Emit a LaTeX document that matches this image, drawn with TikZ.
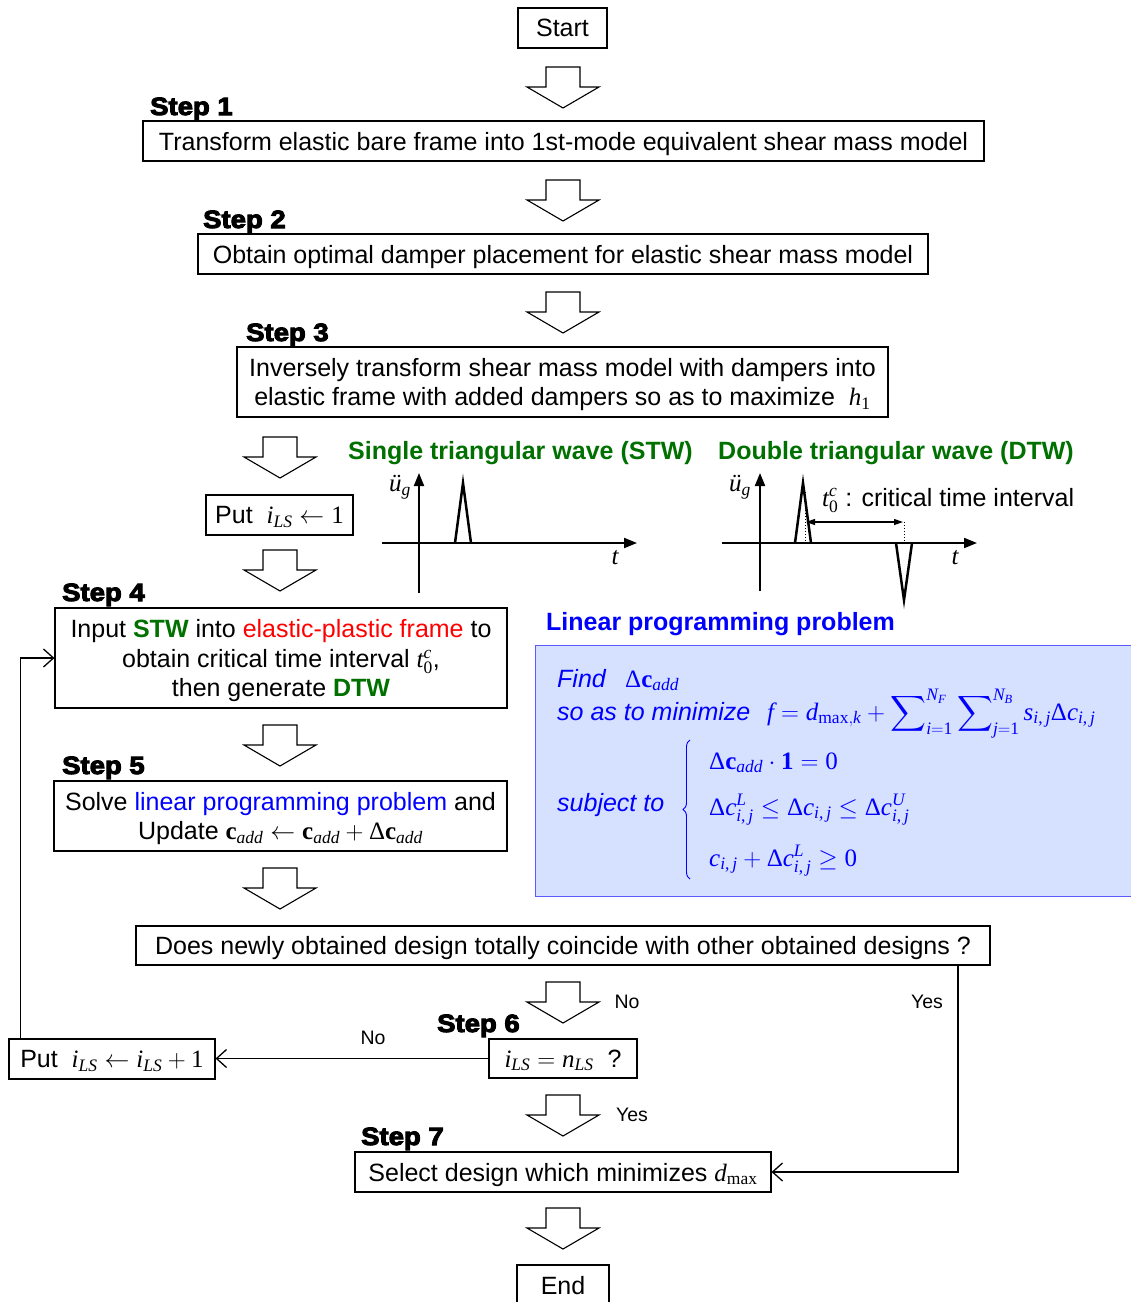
\documentclass[tikz,border=0pt]{standalone}
\usepackage{amsmath}
\usepackage{fontspec}
\setmainfont{Liberation Sans}
\newfontfamily\tms{Liberation Serif}
\newfontfamily\heavy{Liberation Sans Bold}[FakeBold=4,FakeStretch=1.1]
\usetikzlibrary{arrows.meta,decorations.pathreplacing}

% math pieces set in a Times-like face
\newcommand\mv[1]{\text{\tms\itshape #1}}
\newcommand\mr[1]{\text{\tms\upshape #1}}
\newcommand\mbf[1]{\text{\tms\bfseries\upshape #1}}
\newcommand\subij{\mv{i}\mr{,}\,\mv{j}}
\newcommand\mainsize{\fontsize{25}{29.5}\selectfont}

\definecolor{dkgreen}{RGB}{0,112,0}
\definecolor{lpfill}{RGB}{214,224,255}
\definecolor{lpedge}{RGB}{90,90,255}

% hollow block arrow: centre x, top y
\newcommand\blockarrow[2]{%
  \draw[blk] (#1-17,#2) -- (#1+17,#2) -- (#1+17,#2+20) -- (#1+36,#2+20)
    -- (#1,#2+41) -- (#1-36,#2+20) -- (#1-17,#2+20) -- cycle;}

\begin{document}
\begin{tikzpicture}[x=1pt,y=-1pt,
  box/.style={draw, line width=1.1pt, inner sep=0pt, align=center, text depth=0pt, font=\mainsize},
  blk/.style={draw, line width=1.1pt, fill=white, line join=miter},
  steplbl/.style={anchor=base west, inner sep=0pt, font=\heavy\fontsize{25}{30}\selectfont},
  conn/.style={line width=1.3pt, -{Straight Barb[length=10pt,width=18pt]}},
  yn/.style={inner sep=0pt, font=\fontsize{19.5}{22}\selectfont},
  axis/.style={line width=2pt, -{Triangle[length=13pt,width=10pt]}},
  wavestroke/.style={line width=2.5pt, line join=miter},
  plain/.style={inner sep=0pt, font=\mainsize},
  lptext/.style={anchor=base west, inner sep=0pt, text=blue, font=\mainsize}]
\useasboundingbox (0,0) rectangle (1131,1302);

% main chain of boxes
\node[box, minimum width=89pt, minimum height=40pt] (start) at (562.5,28) {Start};
\node[box, minimum width=841pt, minimum height=40pt] (s1) at (563.5,141)
  {Transform elastic bare frame into 1st-mode equivalent shear mass model};
\node[box, minimum width=730pt, minimum height=40pt] (s2) at (563,254)
  {Obtain optimal damper placement for elastic shear mass model};
\node[box, minimum width=651pt, minimum height=70pt] (s3) at (562.5,382)
  {Inversely transform shear mass model with dampers into\\
   elastic frame with added dampers so as to maximize~~$\mv{h}_{\mr{1}}$};
\node[box, minimum width=147pt, minimum height=40pt] (put1) at (279.5,515)
  {Put~~$\mv{i}_{\mv{LS}} \leftarrow \mr{1}$};
\node[box, minimum width=452pt, minimum height=100pt] (s4) at (281,658)
  {Input {\color{dkgreen}\bfseries STW} into {\color{red}elastic-plastic frame} to\\
   obtain critical time interval $\mv{t}_{\mr{0}}^{\mv{c}}$,\\
   then generate {\color{dkgreen}\bfseries DTW}};
\node[box, minimum width=453pt, minimum height=70pt] (s5) at (280.5,816)
  {Solve {\color{blue}linear programming problem} and\\
   Update~$\mbf{c}_{\mv{add}} \leftarrow \mbf{c}_{\mv{add}} + \mr{Δ}\mbf{c}_{\mv{add}}$};
\node[box, minimum width=854pt, minimum height=39pt] (dec) at (563,945.5)
  {Does newly obtained design totally coincide with other obtained designs ?};
\node[box, minimum width=148pt, minimum height=39pt] (s6) at (563,1058.5)
  {$\mv{i}_{\mv{LS}} = \mv{n}_{\mv{LS}}$~~?};
\node[box, minimum width=206pt, minimum height=40pt] (put2) at (112,1059)
  {Put~~$\mv{i}_{\mv{LS}} \leftarrow \mv{i}_{\mv{LS}} + \mr{1}$};
\node[box, minimum width=416pt, minimum height=40pt] (s7) at (563,1172)
  {Select design which minimizes~$\mv{d}_{\mr{max}}$};
\node[box, minimum width=92pt, minimum height=40pt] (end) at (563,1285) {End};

% step labels
\node[steplbl] (l1) at (150,115) {Step 1};
\node[steplbl] (l2) at (203,228) {Step 2};
\node[steplbl] (l3) at (246,341) {Step 3};
\node[steplbl] (l4) at (62,601) {Step 4};
\node[steplbl] (l5) at (62,774) {Step 5};
\node[steplbl] (l6) at (437,1032) {Step 6};
\node[steplbl] (l7) at (361,1145) {Step 7};

% hollow block arrows between stages
\blockarrow{563}{67}
\blockarrow{563}{180}
\blockarrow{563}{292}
\blockarrow{280}{437}
\blockarrow{280}{550}
\blockarrow{280}{725}
\blockarrow{280}{868}
\blockarrow{563}{982}
\blockarrow{563}{1095}
\blockarrow{563}{1208}

% loop and branch connectors
\draw[conn] ([xshift=12pt]put2.north west) |- (s4.west);
\draw[conn] (s6.west) -- (s6.west -| put2.east);
\draw[conn] ([xshift=395pt]dec.south) |- (s7.east);
\node[yn] (no1) at (627,1002) {No};
\node[yn] (yes1) at (927,1002) {Yes};
\node[yn] (no2) at (373,1038) {No};
\node[yn] (yes2) at (632,1115) {Yes};

% single triangular wave
\node[anchor=base west, inner sep=0pt, font=\mainsize\bfseries, text=dkgreen] (stwh) at (348,459)
  {Single triangular wave (STW)};
\draw[axis] (382,543) -- (637,543);
\draw[axis] (419,593) -- (419,473);
\draw[wavestroke] (455,543) -- (463,483) -- (471,543);
\node[plain] (stwu) at (400,487) {$\mv{ü}_{\mv{g}}$};
\node[plain] (stwtt) at (615,558) {$\mv{t}$};

% double triangular wave
\node[anchor=base west, inner sep=0pt, font=\mainsize\bfseries, text=dkgreen] (dtwh) at (718,459)
  {Double triangular wave (DTW)};
\draw[axis] (722,543) -- (977,543);
\draw[axis] (760,591) -- (760,473);
\draw[wavestroke] (795,543) -- (803,483) -- (811,543);
\draw[wavestroke] (896,543) -- (904,600) -- (912,543);
\draw[dotted, line width=1pt] (805,492) -- (805,543);
\draw[dotted, line width=1pt] (904,522) -- (904,543);
\draw[line width=1.2pt, {Triangle[length=9pt,width=6pt]}-{Triangle[length=9pt,width=6pt]}] (806,522) -- (903,522);
\node[plain] (dtwu) at (740,487) {$\mv{ü}_{\mv{g}}$};
\node[plain] (dtwtt) at (955,558) {$\mv{t}$};
\node[anchor=base west, plain] (tci) at (822,506) {$\mv{t}_{\mr{0}}^{\mv{c}}$ : critical time interval};

% linear programming problem
\node[anchor=base west, inner sep=0pt, font=\mainsize\bfseries, text=blue] (lph) at (546,630)
  {Linear programming problem};
\node[draw=lpedge, fill=lpfill, line width=1.3pt, anchor=north west, inner sep=0pt,
  minimum width=600pt, minimum height=251pt] (lpbox) at (535,645) {};
\node[lptext] (find) at (557,687) {\itshape Find};
\node[lptext] (findv) at (625,687) {$\mr{Δ}\mbf{c}_{\mv{add}}$};
\node[lptext] (soas) at (557,720) {\itshape so as to minimize};
\node[lptext] (obj) at (767,720) {$\mv{f} = \mv{d}_{\mr{max},\mv{k}} +
  \displaystyle\sum\nolimits_{\mv{i}=\mr{1}}^{\mv{N}_{\mv{F}}}
  \sum\nolimits_{\mv{j}=\mr{1}}^{\mv{N}_{\mv{B}}}
  \mv{s}_{\subij}\mr{Δ}\mv{c}_{\subij}$};
\node[lptext] (subj) at (557,811) {\itshape subject to};
\draw[blue, line width=0.9pt, decorate, decoration={brace, amplitude=7pt}] (690,879) -- (690,740);
\node[lptext] (eq1) at (709,769) {$\mr{Δ}\mbf{c}_{\mv{add}}\cdot\mbf{1} = \mr{0}$};
\node[lptext] (eq2) at (709,815) {$\mr{Δ}\mv{c}^{\mv{L}}_{\subij} \le
  \mr{Δ}\mv{c}_{\subij} \le \mr{Δ}\mv{c}^{\mv{U}}_{\subij}$};
\node[lptext] (eq3) at (709,866) {$\mv{c}_{\subij} + \mr{Δ}\mv{c}^{\mv{L}}_{\subij} \ge \mr{0}$};
\end{tikzpicture}
\end{document}
